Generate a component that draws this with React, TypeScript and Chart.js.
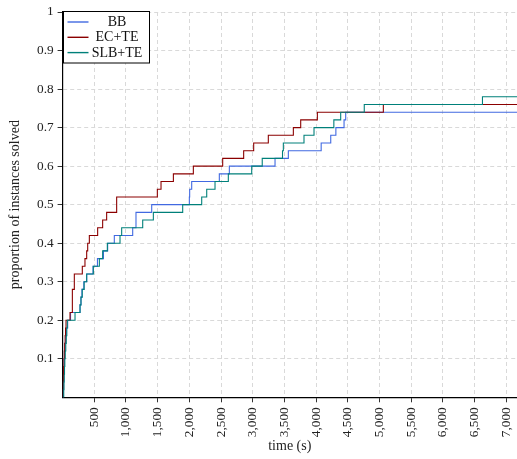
import React, { useEffect, useRef } from "react";
import { Chart, registerables } from "chart.js";

Chart.register(...registerables);

// ---- data (time in seconds, proportion of instances solved) ----
const seriesNames = ["BB", "EC+TE", "SLB+TE"];

const bbTimes = [0, 12, 15, 18, 21, 25, 30, 38, 48, 62, 80, 125, 275, 290, 305, 335, 380, 480, 550, 645, 711, 816, 1106, 1158, 1158, 1406, 2000, 2005, 2037, 2473, 2631, 3352, 3562, 4080, 4231, 4312, 4441, 4467, 7170];
const bbSolved = [0, 0.02, 0.04, 0.06, 0.08, 0.1, 0.12, 0.14, 0.16, 0.18, 0.2, 0.22, 0.24, 0.26, 0.28, 0.3, 0.32, 0.34, 0.36, 0.38, 0.4, 0.42, 0.44, 0.46, 0.48, 0.5, 0.52, 0.54, 0.56, 0.58, 0.6, 0.62, 0.64, 0.66, 0.68, 0.7, 0.72, 0.74, 0.74];

const ecTimes = [0, 5, 8, 12, 16, 22, 27, 33, 40, 47, 54, 117, 154, 154, 154, 185, 185, 311, 353, 380, 396, 422, 553, 632, 695, 853, 853, 1495, 1553, 1748, 2063, 2526, 2857, 3015, 3246, 3641, 3757, 4020, 5061, 7170];
const ecSolved = [0, 0.02, 0.04, 0.06, 0.08, 0.1, 0.12, 0.14, 0.16, 0.18, 0.2, 0.22, 0.24, 0.26, 0.28, 0.3, 0.32, 0.34, 0.36, 0.38, 0.4, 0.42, 0.44, 0.46, 0.48, 0.5, 0.52, 0.54, 0.56, 0.58, 0.6, 0.62, 0.64, 0.66, 0.68, 0.7, 0.72, 0.74, 0.76, 0.76];

const slbTimes = [0, 18, 22, 26, 30, 35, 42, 50, 58, 66, 75, 196, 275, 290, 310, 340, 380, 485, 580, 632, 706, 906, 932, 1264, 1432, 1895, 2195, 2274, 2405, 2615, 2984, 3150, 3470, 3483, 3809, 3967, 4280, 4388, 4760, 6625, 7170];
const slbSolved = [0, 0.02, 0.04, 0.06, 0.08, 0.1, 0.12, 0.14, 0.16, 0.18, 0.2, 0.22, 0.24, 0.26, 0.28, 0.3, 0.32, 0.34, 0.36, 0.38, 0.4, 0.42, 0.44, 0.46, 0.48, 0.5, 0.52, 0.54, 0.56, 0.58, 0.6, 0.62, 0.64, 0.66, 0.68, 0.7, 0.72, 0.74, 0.76, 0.78, 0.78];

const xTickValues = [500, 1000, 1500, 2000, 2500, 3000, 3500, 4000, 4500, 5000, 5500, 6000, 6500, 7000];
const yTickValues = [0.1, 0.2, 0.3, 0.4, 0.5, 0.6, 0.7, 0.8, 0.9, 1];

const xTitle = "time (s)";
const yTitle = "proportion of instances solved";

const SERIF = '"Liberation Serif", "DejaVu Serif", serif';

const toPoints = (xs: number[], ys: number[]) => xs.map((x, i) => ({ x, y: ys[i] }));

const legendPlugin = {
  id: "boxLegend",
  afterDraw(chart: any) {
    const ctx = chart.ctx as CanvasRenderingContext2D;
    const { left, top } = chart.chartArea;
    const boxX = Math.round(left) + 0.5;
    const boxY = Math.round(top) - 0.5;
    const boxW = 86;
    const boxH = 51.5;
    ctx.save();
    ctx.fillStyle = "#ffffff";
    ctx.fillRect(boxX, boxY, boxW, boxH);
    ctx.strokeStyle = "#000000";
    ctx.lineWidth = 1;
    ctx.strokeRect(boxX, boxY, boxW, boxH);
    chart.data.datasets.forEach((ds: any, i: number) => {
      const y = boxY + 10.5 + i * 15.3;
      ctx.strokeStyle = ds.borderColor;
      ctx.lineWidth = 1.4;
      ctx.beginPath();
      ctx.moveTo(boxX + 4, y);
      ctx.lineTo(boxX + 25, y);
      ctx.stroke();
      ctx.fillStyle = "#111111";
      ctx.font = `14px ${SERIF}`;
      ctx.textAlign = "center";
      ctx.textBaseline = "middle";
      ctx.fillText(ds.label, boxX + 53.5, y + 0.5);
    });
    ctx.restore();
  },
};

export default function App() {
  const canvasRef = useRef<HTMLCanvasElement | null>(null);

  useEffect(() => {
    const canvas = canvasRef.current;
    if (!canvas) return;
    const colors = ["#4169e1", "#8b0000", "#00807a"];
    const seriesTimes = [bbTimes, ecTimes, slbTimes];
    const seriesValues = [bbSolved, ecSolved, slbSolved];

    const chart = new Chart(canvas, {
      type: "line",
      data: {
        datasets: seriesNames.map((name, i) => ({
          label: name,
          data: toPoints(seriesTimes[i], seriesValues[i]),
          borderColor: colors[i],
          backgroundColor: colors[i],
          borderWidth: 1.1,
          pointRadius: 0,
          stepped: "before" as const,
          fill: false,
          order: 2 - i,
        })),
      },
      options: {
        animation: false,
        responsive: false,
        devicePixelRatio: 1,
        parsing: false as any,
        normalized: true,
        layout: { padding: { top: 12, right: 0, bottom: 0, left: 0 } },
        plugins: {
          legend: { display: false },
          tooltip: { enabled: false },
        },
        scales: {
          x: {
            type: "linear",
            min: 0,
            max: 7170,
            afterBuildTicks: (scale: any) => {
              scale.ticks = xTickValues.map((v) => ({ value: v }));
            },
            afterFit: (scale: any) => {
              scale.height = 61.7;
              scale.paddingLeft = 0;
              scale.paddingRight = 0;
            },
            ticks: {
              autoSkip: false,
              minRotation: 90,
              maxRotation: 90,
              padding: 5,
              color: "#222222",
              font: { family: SERIF, size: 13.3 },
              callback: (v: any) => Number(v).toLocaleString("en-US"),
            },
            grid: {
              color: "#d9d9d9",
              lineWidth: 1,
              drawTicks: true,
              tickLength: 5,
              tickColor: "#333333",
              tickWidth: 1,
            },
            border: { display: true, color: "#000000", width: 1.2, dash: [4, 3] },
            title: {
              display: true,
              text: xTitle,
              color: "#222222",
              font: { family: SERIF, size: 14 },
              padding: { top: 0, bottom: 4 },
            },
          },
          y: {
            type: "linear",
            min: 0,
            max: 1,
            afterBuildTicks: (scale: any) => {
              scale.ticks = yTickValues.map((v) => ({ value: v }));
            },
            afterFit: (scale: any) => {
              scale.width = 62.6;
              scale.paddingTop = 0;
              scale.paddingBottom = 0;
            },
            ticks: {
              padding: 4,
              color: "#222222",
              font: { family: SERIF, size: 13.3 },
              callback: (v: any) => String(Number(Number(v).toFixed(1))),
            },
            grid: {
              color: "#d9d9d9",
              lineWidth: 1,
              drawTicks: true,
              tickLength: 5,
              tickColor: "#333333",
              tickWidth: 1,
            },
            border: { display: true, color: "#000000", width: 1.2, dash: [4, 3] },
            title: {
              display: true,
              text: yTitle,
              color: "#222222",
              font: { family: SERIF, size: 14 },
              padding: { top: 7, bottom: 0 },
            },
          },
        },
      } as any,
      plugins: [legendPlugin],
    });

    return () => {
      chart.destroy();
    };
  }, []);

  return (
    <div style={{ position: "absolute", left: 0, top: 0, width: 517, height: 459, background: "#ffffff" }}>
      <canvas ref={canvasRef} width={517} height={459} style={{ display: "block", width: 517, height: 459 }} />
    </div>
  );
}
